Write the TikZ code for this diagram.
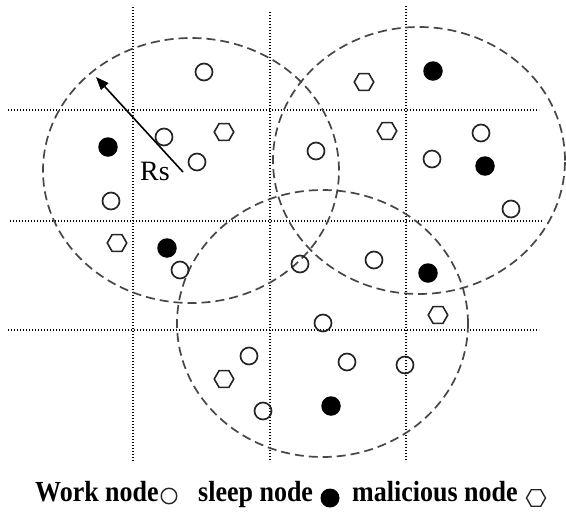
\documentclass[tikz,border=0pt]{standalone}
\usepackage{fontspec}
\setmainfont{Liberation Serif}
\usetikzlibrary{arrows.meta,shapes.geometric}

\tikzset{
  gridline/.style={line width=1.5pt, dash pattern=on 1.4pt off 1.6pt, black},
  rangecircle/.style={line width=1.7pt, dash pattern=on 9pt off 5pt, black!72},
  worknode/.style={circle, draw=black!85, line width=1.7pt, minimum size=17pt, inner sep=0pt},
  sleepnode/.style={circle, fill=black, minimum size=19.5pt, inner sep=0pt},
  malnode/.style={regular polygon, regular polygon sides=6, draw=black!85, line width=1.6pt,
                  minimum size=19.5pt, inner sep=0pt},
  legendtext/.style={font=\fontsize{26}{30}\selectfont\bfseries, inner sep=0pt, anchor=base west},
}

\begin{document}
\begin{tikzpicture}[x=1pt, y=-1pt]
  \useasboundingbox (0,0) rectangle (566,512);

  % dotted grid
  \draw[gridline] (133,7) -- (133,462);
  \draw[gridline] (270,12) -- (270,462);
  \draw[gridline] (406,6) -- (406,462);
  \draw[gridline] (8,110) -- (539,110);
  \draw[gridline] (10,221) -- (542,221);
  \draw[gridline] (8,330) -- (539,330);

  % sensing ranges
  \draw[rangecircle] (191,170.5) ellipse [x radius=148pt, y radius=132.5pt];
  \draw[rangecircle] (419,160.5) ellipse [x radius=146pt, y radius=133.5pt];
  \draw[rangecircle] (322.5,323.5) ellipse [x radius=145.5pt, y radius=133.5pt];

  % sensing radius
  \coordinate (rsTail) at (183,172);
  \coordinate (rsTip) at (96,77);
  \draw[line width=1.6pt, -{Triangle[length=13pt, width=10pt]}] (rsTail) -- (rsTip);
  \node[inner sep=0pt, anchor=base west, font=\fontsize{28}{32}\selectfont] (rs) at (140,180) {Rs};

  % sensor nodes
  \node[worknode] (w1) at (204,72) {};
  \node[malnode] (m1) at (224,132) {};
  \node[worknode] (w2) at (164,137) {};
  \node[sleepnode] (s1) at (108,147) {};
  \node[worknode] (w3) at (197,162) {};
  \node[worknode] (w4) at (111,201) {};
  \node[malnode] (m2) at (117,243) {};
  \node[sleepnode] (s2) at (167,248) {};

  \node[malnode] (m3) at (364,82) {};
  \node[sleepnode] (s3) at (433,71) {};
  \node[malnode] (m4) at (387,131) {};
  \node[worknode] (w5) at (316,151) {};
  \node[worknode] (w6) at (481,133) {};
  \node[worknode] (w7) at (432,159) {};
  \node[sleepnode] (s4) at (485,166) {};
  \node[worknode] (w8) at (511,209) {};

  \node[worknode] (w9) at (180,270) {};
  \node[worknode] (w10) at (300,264) {};
  \node[worknode] (w11) at (374,260) {};
  \node[sleepnode] (s5) at (428,273) {};
  \node[malnode] (m5) at (438,315) {};
  \node[worknode] (w12) at (323,323) {};
  \node[worknode] (w13) at (249,356) {};
  \node[worknode] (w14) at (347,362) {};
  \node[worknode] (w15) at (405,365) {};
  \node[malnode] (m6) at (224,379) {};
  \node[sleepnode] (s6) at (331,406) {};
  \node[worknode] (w16) at (263,411) {};

  % legend
  \node[legendtext] (lgWork) at (35,501) {\scalebox{1}[1.12]{Work node}};
  \node[worknode, minimum size=15.5pt, line width=1.4pt] (lgWorkSym) at (169,496) {};
  \node[legendtext] (lgSleep) at (198,501) {\scalebox{1}[1.12]{sleep node}};
  \node[sleepnode, minimum size=19pt] (lgSleepSym) at (330,498) {};
  \node[legendtext] (lgMal) at (352,501) {\scalebox{1}[1.12]{malicious node}};
  \node[malnode, minimum size=19pt, line width=1.4pt] (lgMalSym) at (536,498) {};
\end{tikzpicture}
\end{document}
